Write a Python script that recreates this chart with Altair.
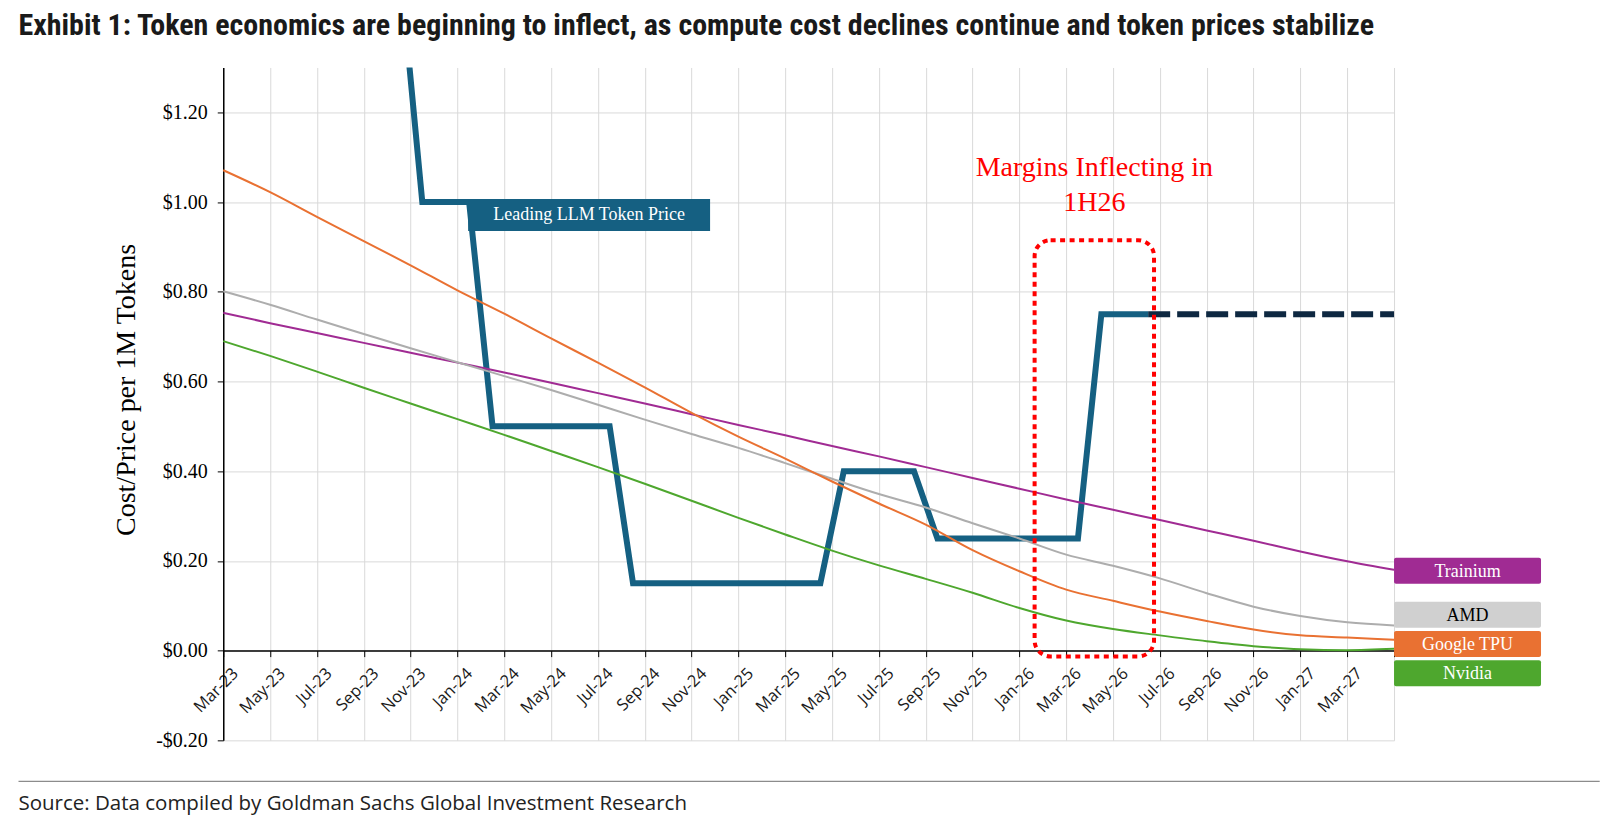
import altair as alt
import pandas as pd

# monthly categories of the x axis (Mar-23 .. Apr-27)
months = pd.period_range("2023-03", "2027-04", freq="M").strftime("%b-%y").tolist()
# labels at every second month boundary; the last boundary closes the axis
tick_labels = months[::2] + ["May-27"]

# compute cost per 1M tokens, read at each labelled boundary
google_tpu = [1.071, 1.022, 0.967, 0.913, 0.859, 0.803, 0.751, 0.696, 0.642, 0.587, 0.530, 0.477, 0.428,
              0.377, 0.328, 0.281, 0.224, 0.177, 0.136, 0.111, 0.087, 0.066, 0.047, 0.034, 0.029, 0.024]
amd = [0.801, 0.771, 0.738, 0.706, 0.674, 0.643, 0.612, 0.581, 0.548, 0.515, 0.483, 0.452, 0.418,
       0.383, 0.349, 0.319, 0.284, 0.250, 0.214, 0.189, 0.161, 0.128, 0.098, 0.077, 0.063, 0.056]
trainium = [0.753, 0.730, 0.708, 0.686, 0.664, 0.642, 0.620, 0.597, 0.574, 0.551, 0.527, 0.503, 0.480,
            0.456, 0.433, 0.409, 0.385, 0.361, 0.337, 0.314, 0.291, 0.268, 0.245, 0.221, 0.199, 0.180]
nvidia = [0.690, 0.657, 0.622, 0.586, 0.551, 0.516, 0.481, 0.445, 0.409, 0.372, 0.334, 0.296, 0.259,
          0.223, 0.190, 0.160, 0.129, 0.095, 0.067, 0.048, 0.034, 0.021, 0.010, 0.003, 0.001, 0.004]

# leading LLM token price, one value per month (Oct-23 .. Jun-26), then the flat outlook
price_months = months[7:40]
price_values = [1.55, 1.00, 1.00, 1.00, 0.50, 0.50, 0.50, 0.50, 0.50, 0.50,
                0.15, 0.15, 0.15, 0.15, 0.15, 0.15, 0.15, 0.15, 0.15,
                0.40, 0.40, 0.40, 0.40,
                0.25, 0.25, 0.25, 0.25, 0.25, 0.25, 0.25,
                0.75, 0.75, 0.75]
outlook_months = months[39:] + ["May-27"]
outlook_values = [0.75, 0.75, 0.75, 0.75, 0.75, 0.75, 0.75, 0.75, 0.75, 0.75, 0.75, 0.75]

series_names = ["Trainium", "AMD", "Google TPU", "Nvidia"]
series_colors = ["#A02B93", "#ADADAD", "#E97132", "#4EA72E"]
label_fills = ["#A02B93", "#D0D0D0", "#E97132", "#4EA72E"]
label_text_colors = ["white", "black", "white", "white"]
# where each end label sits (stacked so they do not overlap)
label_values = [0.178, 0.080, 0.0145, -0.0505]

TITLE = "Exhibit 1: Token economics are beginning to inflect, as compute cost declines continue and token prices stabilize"
SOURCE = "Source: Data compiled by Goldman Sachs Global Investment Research"

W, H = 1171, 673
SERIF = "Liberation Serif"
SANS = "Open Sans"
all_months = months + ["May-27"]

cost = pd.DataFrame(
    [
        {"pos": 2 * k, "value": v, "series": name}
        for name, vals in zip(series_names, [trainium, amd, google_tpu, nvidia])
        for k, v in enumerate(vals)
    ]
)
price = pd.DataFrame({"pos": [all_months.index(m) + 0.5 for m in price_months], "value": price_values})
outlook = pd.DataFrame({"pos": [all_months.index(m) + 0.5 for m in outlook_months], "value": outlook_values})

js_labels = "[" + ",".join(f"'{t}'" for t in tick_labels) + "]"
x_enc = alt.X(
    "pos:Q",
    scale=alt.Scale(domain=[0, 50], nice=False, zero=False),
    axis=alt.Axis(
        values=list(range(0, 51, 2)),
        labelExpr=f"datum.value < 50 ? {js_labels}[datum.value / 2] : ''",
        title=None,
        grid=True,
        gridColor="#D9D9D9",
        domainColor="black",
        domainWidth=1.5,
        tickColor="black",
        tickSize=6,
        labelAngle=315,
        labelAlign="right",
        labelBaseline="middle",
        labelOffset=12,
        labelPadding=14,
        labelFlush=False,
        labelOverlap=False,
        labelFont=SANS,
        labelFontSize=16.5,
        labelColor="#1A1A1A",
        offset=-H * 0.2 / 1.5,
    ),
)
y_enc = alt.Y(
    "value:Q",
    scale=alt.Scale(domain=[-0.2, 1.3], nice=False, zero=False),
    axis=alt.Axis(
        values=[-0.2, 0.0, 0.2, 0.4, 0.6, 0.8, 1.0, 1.2],
        labelExpr="datum.value < 0 ? '-$' + format(-datum.value, '.2f') : '$' + format(datum.value, '.2f')",
        title="Cost/Price per 1M Tokens",
        titleFont=SERIF,
        titleFontSize=28,
        titleFontWeight="normal",
        titleColor="black",
        titleAngle=270,
        titleAlign="center",
        titleBaseline="middle",
        titleX=-97,
        titleY=322,
        gridColor="#D9D9D9",
        domainColor="black",
        domainWidth=1.5,
        tickColor="black",
        tickSize=6,
        labelPadding=10,
        labelFont=SERIF,
        labelFontSize=20,
        labelColor="black",
    ),
)

price_line = alt.Chart(price).mark_line(color="#156082", strokeWidth=6, clip=True).encode(x=x_enc, y=y_enc)
outlook_line = alt.Chart(outlook).mark_line(
    color="#0E2841", strokeWidth=6, strokeDash=[22, 7], clip=True
).encode(x=x_enc, y=y_enc)
cost_lines = alt.Chart(cost).mark_line(strokeWidth=2, interpolate="monotone").encode(
    x=x_enc,
    y=y_enc,
    color=alt.Color("series:N", scale=alt.Scale(domain=series_names, range=series_colors), legend=None),
)

# red dotted box around 1H26 and its caption
box = pd.DataFrame({"pos": [34.65], "pos_end": [39.75], "value": [0.915], "value_end": [-0.013]})
margin_box = alt.Chart(box).mark_rect(
    filled=False, stroke="#FF0000", strokeWidth=4, strokeDash=[5, 4.5], cornerRadius=16
).encode(x=x_enc, x2="pos_end", y=y_enc, y2="value_end")
caption = pd.DataFrame({"pos": [37.2], "value": [1.057], "text": [["Margins Inflecting in", "1H26"]]})
margin_text = alt.Chart(caption).mark_text(
    font=SERIF, fontSize=28, color="#FF0000", align="center", baseline="alphabetic", lineHeight=35
).encode(x=x_enc, y=y_enc, text="text")

# label of the price line, hung from its Jan-24 point
anchor = pd.DataFrame({"pos": [months.index("Jan-24") + 0.5], "value": [1.00], "text": ["Leading LLM Token Price"]})
price_box = alt.Chart(anchor).mark_rect(width=242, height=32, xOffset=120, yOffset=13, color="#156082").encode(
    x=x_enc, y=y_enc
)
price_text = alt.Chart(anchor).mark_text(
    font=SERIF, fontSize=18, color="white", align="center", baseline="middle", xOffset=120, yOffset=13
).encode(x=x_enc, y=y_enc, text="text")

# end labels of the four cost series, right of the plot
ends = pd.DataFrame(
    {"pos": [50] * 4, "value": label_values, "text": series_names, "fill": label_fills, "ink": label_text_colors}
)
end_boxes = alt.Chart(ends).mark_rect(width=147, height=26, xOffset=73.5, cornerRadius=2).encode(
    x=x_enc, y=y_enc, color=alt.Color("fill:N", scale=None)
)
end_text = alt.Chart(ends).mark_text(
    font=SERIF, fontSize=18, align="center", baseline="middle", xOffset=73.5, dy=1
).encode(x=x_enc, y=y_enc, text="text", color=alt.Color("ink:N", scale=None))

# heading, separator line and source note, placed in the chart's margins
texts = pd.DataFrame({"title": [TITLE], "source": [SOURCE]})
heading = alt.Chart(texts).mark_text(
    font="Liberation Sans Narrow, Roboto Condensed, Roboto",
    fontSize=30,
    fontWeight="bold",
    color="#1A1A1A",
    align="left",
    baseline="alphabetic",
).encode(x=alt.value(-204.8), y=alt.value(-32), text="title")
footer_rule = alt.Chart(texts).mark_rule(color="#8C8C8C", strokeWidth=1.2).encode(
    x=alt.value(-204.8), x2=alt.value(1376.7), y=alt.value(714)
)
footer_text = alt.Chart(texts).mark_text(
    font=SANS, fontSize=20.5, color="#222222", align="left", baseline="alphabetic"
).encode(x=alt.value(-204.8), y=alt.value(743), text="source")

chart = (
    alt.layer(
        price_line,
        outlook_line,
        cost_lines,
        margin_box,
        margin_text,
        price_box,
        price_text,
        end_boxes,
        end_text,
        heading,
        footer_rule,
        footer_text,
    )
    .resolve_scale(color="independent")
    .properties(
        width=W,
        height=H,
        autosize="none",
        padding={"left": 215.3, "top": 59.4, "right": 212, "bottom": 92},
        background="white",
    )
    .configure_view(strokeWidth=0)
)

chart.save("out.html", embed_options={"renderer": "svg", "actions": False})
